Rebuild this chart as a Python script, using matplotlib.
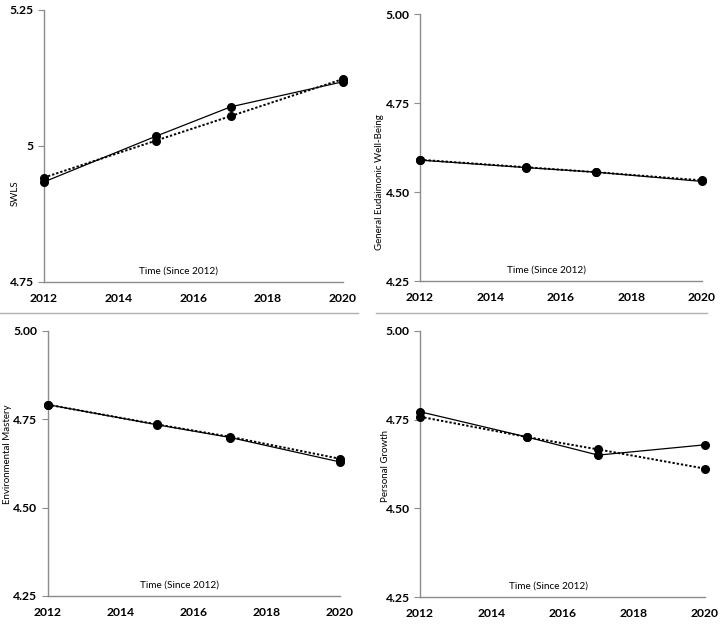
import matplotlib
matplotlib.use("Agg")
import matplotlib.pyplot as plt
from matplotlib.lines import Line2D

plt.rcParams['font.family'] = ['Lato', 'DejaVu Sans']

years = [2012, 2015, 2017, 2020]

swls_obs = [4.934, 5.018, 5.072, 5.118]
swls_fit = [4.942, 5.010, 5.055, 5.123]

gew_obs = [4.590, 4.569, 4.556, 4.530]
gew_fit = [4.591, 4.570, 4.556, 4.533]

em_obs = [4.791, 4.734, 4.698, 4.629]
em_fit = [4.791, 4.735, 4.700, 4.638]

pg_obs = [4.772, 4.701, 4.650, 4.679]
pg_fit = [4.758, 4.701, 4.666, 4.612]

x_ticks = [2012, 2014, 2016, 2018, 2020]
x_label = "Time (Since 2012)"

panels = [
    dict(title="SWLS", obs=swls_obs, fit=swls_fit, ylim=(4.75, 5.25),
         yticks=[4.75, 5.0, 5.25], ylabels=["4.75", "5", "5.25"],
         rect=[0.0611, 0.5488, 0.4149, 0.4352], ylab_pos=(-0.080, 0.327)),
    dict(title="General Eudaimonic Well-Being", obs=gew_obs, fit=gew_fit, ylim=(4.25, 5.0),
         yticks=[4.25, 4.5, 4.75, 5.0], ylabels=["4.25", "4.50", "4.75", "5.00"],
         rect=[0.5833, 0.5504, 0.3917, 0.4267], ylab_pos=(-0.128, 0.371)),
    dict(title="Environmental Mastery", obs=em_obs, fit=em_fit, ylim=(4.25, 5.0),
         yticks=[4.25, 4.5, 4.75, 5.0], ylabels=["4.25", "4.50", "4.75", "5.00"],
         rect=[0.0662, 0.0464, 0.4058, 0.4245], ylab_pos=(-0.122, 0.535)),
    dict(title="Personal Growth", obs=pg_obs, fit=pg_fit, ylim=(4.25, 5.0),
         yticks=[4.25, 4.5, 4.75, 5.0], ylabels=["4.25", "4.50", "4.75", "5.00"],
         rect=[0.5833, 0.0443, 0.3958, 0.4266], ylab_pos=(-0.105, 0.4925)),
]

fig = plt.figure(figsize=(7.2, 6.25), dpi=100)
spine_col = "#8c8c8c"

for p in panels:
    ax = fig.add_axes(p["rect"])
    ax.plot(years, p["fit"], color="black", linestyle=(0, (1.2, 1.0)), linewidth=1.4,
            marker="o", markersize=5.5, zorder=3)
    ax.plot(years, p["obs"], color="black", linestyle="-", linewidth=0.9,
            marker="o", markersize=5.5, zorder=4)
    ax.set_xlim(2012, 2020)
    ax.set_ylim(*p["ylim"])
    ax.set_xticks(x_ticks)
    ax.set_xticklabels([str(t) for t in x_ticks], fontsize=8.7, fontweight="bold")
    ax.set_yticks(p["yticks"])
    ax.set_yticklabels(p["ylabels"], fontsize=8.7, fontweight="bold")
    ax.tick_params(axis="x", length=0, pad=8)
    ax.tick_params(axis="y", length=4, color=spine_col, pad=3.5)
    for s in ["top", "right"]:
        ax.spines[s].set_visible(False)
    for s in ["left", "bottom"]:
        ax.spines[s].set_color(spine_col)
        ax.spines[s].set_linewidth(1.0)
    ax.set_ylabel(p["title"], fontsize=7.0)
    ax.yaxis.set_label_coords(*p["ylab_pos"])
    ax.text(0.45, 0.025, x_label, transform=ax.transAxes, ha="center", va="bottom", fontsize=7.2)
    for ln in ax.lines:
        ln.set_clip_on(False)

# separator lines between top and bottom rows
fig.add_artist(Line2D([0.0, 0.497], [1 - 312.5 / 625] * 2, color="#b0b0b0", linewidth=1.0,
                      transform=fig.transFigure))
fig.add_artist(Line2D([0.522, 0.982], [1 - 312.5 / 625] * 2, color="#b0b0b0", linewidth=1.0,
                      transform=fig.transFigure))

fig.savefig("out.png", dpi=100)
